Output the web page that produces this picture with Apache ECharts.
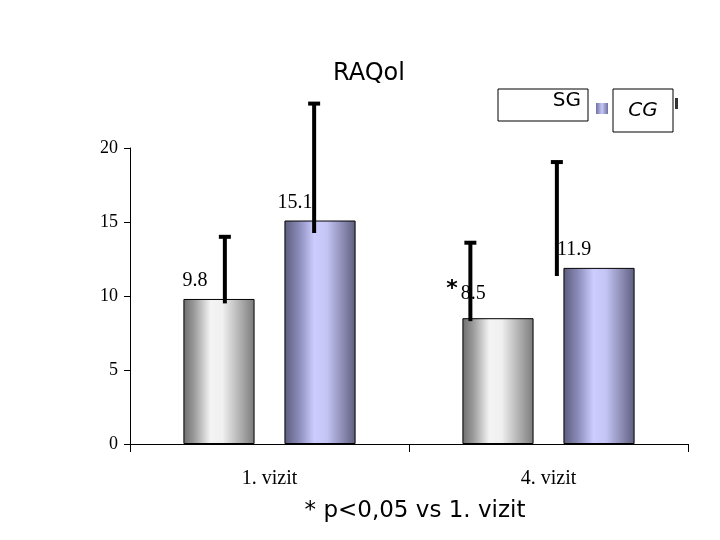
<!DOCTYPE html>
<html>
<head>
<meta charset="utf-8">
<script src="https://cdn.jsdelivr.net/npm/echarts@6/dist/echarts.min.js"></script>
<style>html,body{margin:0;padding:0;background:#fff;}#c{width:720px;height:540px;}</style>
</head>
<body>
<div id="c"></div>
<script>
var categories = ['1. vizit', '4. vizit'];
var seriesNames = ['SG', 'CG'];
var sgValues = [9.8, 8.5];
var cgValues = [15.1, 11.9];
var sgErrLow = [9.5, 8.3];
var sgErrHigh = [14.0, 13.6];
var cgErrLow = [14.25, 11.35];
var cgErrHigh = [23.0, 19.05];
// horizontal position of each error bar relative to its category centre (fraction of category width)
var sgErrOffset = [-0.16, -0.28];
var cgErrOffset = [0.16, 0.03];
var sgMarks = ['', '*'];
var yTicks = [0, 5, 10, 15, 20];
var titleText = 'RAQol';
var footnote = '* p<0,05 vs 1. vizit';

var chart = echarts.init(document.getElementById('c'), null, {renderer: 'canvas'});

var sgGrad = new echarts.graphic.LinearGradient(0, 0, 1, 0, [
  {offset: 0, color: '#6e6e6e'}, {offset: 0.15, color: '#9a9a9a'},
  {offset: 0.38, color: '#f4f4f4'}, {offset: 0.55, color: '#f0f0f0'},
  {offset: 0.85, color: '#a2a2a2'}, {offset: 1, color: '#7a7a7a'}
]);
var cgGrad = new echarts.graphic.LinearGradient(0, 0, 1, 0, [
  {offset: 0, color: '#5c5c7c'}, {offset: 0.2, color: '#8a8ab8'},
  {offset: 0.42, color: '#ccccff'}, {offset: 0.6, color: '#c4c4f4'},
  {offset: 0.85, color: '#8484ac'}, {offset: 1, color: '#5e5e7e'}
]);
var swatchGrad = new echarts.graphic.LinearGradient(0, 0, 1, 0, [
  {offset: 0, color: '#7070a0'}, {offset: 0.5, color: '#c8c8f8'}, {offset: 1, color: '#7070a0'}
]);

var labelFont = {fontFamily: 'Liberation Serif', fontSize: 20, color: '#000'};

var sgData = sgValues.map(function (v, i) {
  var item = {value: v};
  if (sgMarks[i]) {
    item.label = {offset: [-32, -3]};
  }
  return item;
});

var errData = [];
for (var i = 0; i < categories.length; i++) {
  errData.push([i, sgErrLow[i], sgErrHigh[i], sgErrOffset[i]]);
  errData.push([i, cgErrLow[i], cgErrHigh[i], cgErrOffset[i]]);
}

var option = {
  backgroundColor: '#fff',
  animation: false,
  title: [
    {text: titleText, left: 364, top: 57, textAlign: 'center',
     textStyle: {fontFamily: 'DejaVu Sans', fontSize: 24, fontWeight: 'normal', color: '#000'}},
    {text: footnote, left: 410, top: 495, textAlign: 'center',
     textStyle: {fontFamily: 'DejaVu Sans', fontSize: 23, fontWeight: 'normal', color: '#000'}}
  ],
  legend: {
    data: [{name: 'CG', icon: 'rect', itemStyle: {color: swatchGrad, borderWidth: 0}}],
    left: 591, top: 98, itemWidth: 12, itemHeight: 11, itemGap: 4,
    formatter: function () { return ''; },
    selectedMode: false
  },
  grid: {left: 130, right: 32, top: 148, bottom: 96},
  xAxis: {
    type: 'category', data: categories,
    axisLine: {lineStyle: {color: '#000', width: 1}},
    axisTick: {show: true, length: 8, lineStyle: {color: '#000'}},
    axisLabel: {margin: 25, fontFamily: 'Liberation Serif', fontSize: 20, color: '#000'}
  },
  yAxis: {
    type: 'value', min: yTicks[0], max: yTicks[yTicks.length - 1], interval: 5,
    splitLine: {show: false},
    axisLine: {show: true, lineStyle: {color: '#000', width: 1}},
    axisTick: {show: true, length: 6, lineStyle: {color: '#000'}},
    axisLabel: {margin: 12, fontFamily: 'Liberation Serif', fontSize: 18, color: '#000'}
  },
  series: [
    {
      name: seriesNames[0], type: 'bar', data: sgData,
      barWidth: '25.5%', barGap: '42%',
      itemStyle: {color: sgGrad, borderColor: '#000', borderWidth: 1},
      label: {
        show: true, position: 'top', offset: [-24, -3],
        formatter: function (p) {
          var m = sgMarks[p.dataIndex];
          return (m ? '{a|' + m + '}' : '') + '{v|' + p.value + '}';
        },
        rich: {
          a: {fontFamily: 'DejaVu Sans', fontSize: 22, fontWeight: 'bold', color: '#000', padding: [0, 3, 10, 0]},
          v: labelFont
        }
      },
      z: 2
    },
    {
      name: seriesNames[1], type: 'bar', data: cgValues,
      barWidth: '25.5%', barGap: '42%',
      itemStyle: {color: cgGrad, borderColor: '#000', borderWidth: 1},
      label: Object.assign({show: true, position: 'top', offset: [-25, -3]}, labelFont),
      z: 2
    },
    {
      type: 'custom', name: 'err', data: errData, clip: false, z: 5,
      encode: {x: 0, y: [1, 2]},
      renderItem: function (params, api) {
        var band = api.size([1, 0])[0];
        var lo = api.coord([api.value(0), api.value(1)]);
        var hi = api.coord([api.value(0), api.value(2)]);
        var x = lo[0] + api.value(3) * band;
        var cap = 6;
        var st = {stroke: '#000', lineWidth: 4};
        return {
          type: 'group',
          children: [
            {type: 'line', shape: {x1: x, y1: lo[1], x2: x, y2: hi[1]}, style: st},
            {type: 'line', shape: {x1: x - cap, y1: hi[1], x2: x + cap, y2: hi[1]}, style: st}
          ]
        };
      }
    }
  ],
  graphic: [
    {type: 'rect', z: 100, shape: {x: 498, y: 89, width: 90, height: 32},
     style: {fill: '#fff', stroke: '#000', lineWidth: 1}},
    {type: 'text', z: 101, x: 581, y: 91,
     style: {text: seriesNames[0], fill: '#000', font: '20px "DejaVu Sans"', textAlign: 'right', textVerticalAlign: 'top'}},
    {type: 'rect', z: 100, shape: {x: 613, y: 89, width: 60, height: 43},
     style: {fill: '#fff', stroke: '#000', lineWidth: 1}},
    {type: 'text', z: 101, x: 643, y: 111,
     style: {text: seriesNames[1], fill: '#000', font: 'italic 20px "DejaVu Sans"', textAlign: 'center', textVerticalAlign: 'middle'}},
    {type: 'rect', z: 99, shape: {x: 675, y: 98, width: 3, height: 11},
     style: {fill: '#333'}}
  ]
};
chart.setOption(option);
</script>
</body>
</html>
